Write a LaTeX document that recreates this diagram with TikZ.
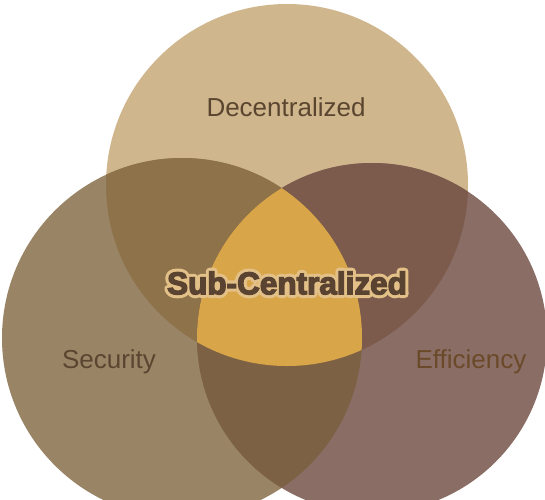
\documentclass[tikz,border=0pt]{standalone}
\usepackage{fontspec}
\setmainfont{Liberation Sans}
\newfontfamily\boldfont{Liberation Sans Bold}
\newfontfamily\heavyfont[FakeBold=4]{Liberation Sans Bold}
\definecolor{topc}{HTML}{D0B68C}
\definecolor{leftc}{HTML}{998566}
\definecolor{rightc}{HTML}{8A6D65}
\definecolor{tlc}{HTML}{8D724A}
\definecolor{trc}{HTML}{7C5A4C}
\definecolor{lrc}{HTML}{7C6144}
\definecolor{midc}{HTML}{D8A648}
\definecolor{labelc}{HTML}{5A4630}
\definecolor{efflabel}{HTML}{6B4A2A}
\definecolor{boldc}{HTML}{5A4331}
\tikzset{
  setlabel/.style={font=\fontsize{26}{30}\selectfont, text=labelc, inner sep=0pt},
  corelabel/.style={inner sep=0pt},
}
% outlined text: a wide light stroke under the heavy dark glyphs
\newcommand{\halotext}[1]{%
  \special{pdf:literal q 2 Tr 7.5 w 1 j 0.886 0.753 0.533 RG 0.886 0.753 0.533 rg}%
  {\boldfont\fontsize{31.5}{35}\selectfont #1}%
  \special{pdf:literal Q}}
\newcommand{\topdisc}{(287,185) circle[radius=181pt]}
\newcommand{\leftdisc}{(182,338) circle[radius=180pt]}
\newcommand{\rightdisc}{(372,338) circle[radius=175pt]}
\begin{document}
\begin{tikzpicture}[x=1pt,y=-1pt]
  \useasboundingbox (0,0) rectangle (545,499);
  \fill[white] (0,0) rectangle (545,499);
  \begin{scope}
    \clip (0,0) rectangle (545,499);
    % single sets
    \fill[topc] \topdisc;
    \fill[leftc] \leftdisc;
    \fill[rightc] \rightdisc;
    % pairwise overlaps
    \begin{scope}
      \clip \topdisc;
      \fill[tlc] \leftdisc;
    \end{scope}
    \begin{scope}
      \clip \topdisc;
      \fill[trc] \rightdisc;
    \end{scope}
    \begin{scope}
      \clip \leftdisc;
      \fill[lrc] \rightdisc;
    \end{scope}
    % common core
    \begin{scope}
      \clip \topdisc;
      \clip \leftdisc;
      \fill[midc] \rightdisc;
    \end{scope}
  \end{scope}
  % set labels
  \node[setlabel] (dec) at (286,107) {Decentralized};
  \node[setlabel] (sec) at (109,362) {Security};
  \node[setlabel, text=efflabel] (eff) at (471,362) {Efficiency};
  % outlined centre label
  \node[corelabel] (halo) at (287,283) {\halotext{Sub-Centralized}};
  \node[corelabel, font=\heavyfont\fontsize{31.5}{35}\selectfont, text=boldc]
    (core) at (287,283) {Sub-Centralized};
\end{tikzpicture}
\end{document}
